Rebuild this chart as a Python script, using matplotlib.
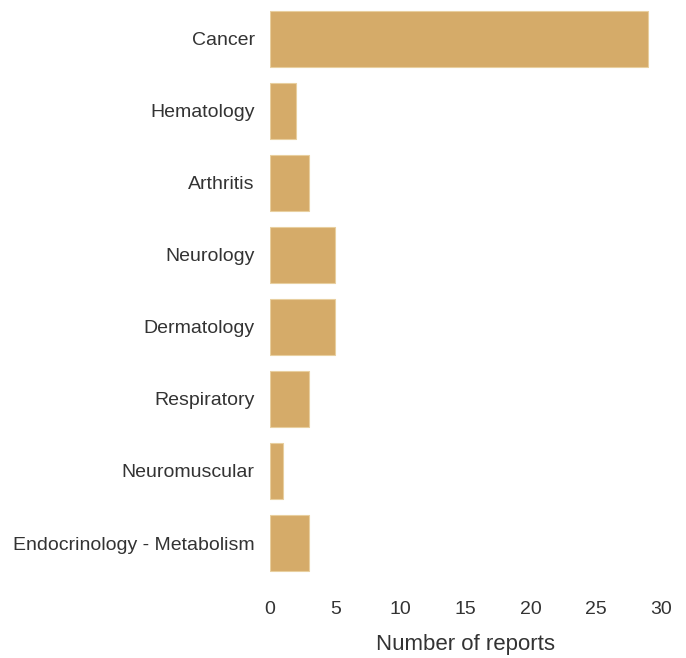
import matplotlib
matplotlib.use("Agg")
import matplotlib.pyplot as plt

# Data
categories = ["Cancer", "Hematology", "Arthritis", "Neurology", "Dermatology",
              "Respiratory", "Neuromuscular", "Endocrinology - Metabolism"]
reports = [29, 2, 3, 5, 5, 3, 1, 3]
xticks = [0, 5, 10, 15, 20, 25, 30]

plt.rcParams['font.family'] = ['Liberation Sans', 'DejaVu Sans']

fig = plt.figure(figsize=(6.86, 6.58), dpi=100)
ax = fig.add_axes([0.3936, 0.12, 0.57, 0.876])

ypos = list(range(len(categories)))
ax.barh(ypos, reports, height=0.78, color="#d5ab69", edgecolor="#e8cf9f", linewidth=0.8)
ax.set_yticks(ypos)
ax.set_yticklabels(categories, fontsize=14, color="#333333")
ax.set_ylim(len(categories) - 0.5, -0.5)
ax.set_xlim(0, 30)
ax.set_xticks(xticks)
ax.set_xticklabels([str(t) for t in xticks], fontsize=14, color="#333333")
ax.set_xlabel("Number of reports", fontsize=16, color="#333333", labelpad=11)
ax.tick_params(axis="y", length=0, pad=11)
ax.tick_params(axis="x", length=0, pad=16)
for s in ax.spines.values():
    s.set_visible(False)

fig.savefig("out.png", dpi=100)
